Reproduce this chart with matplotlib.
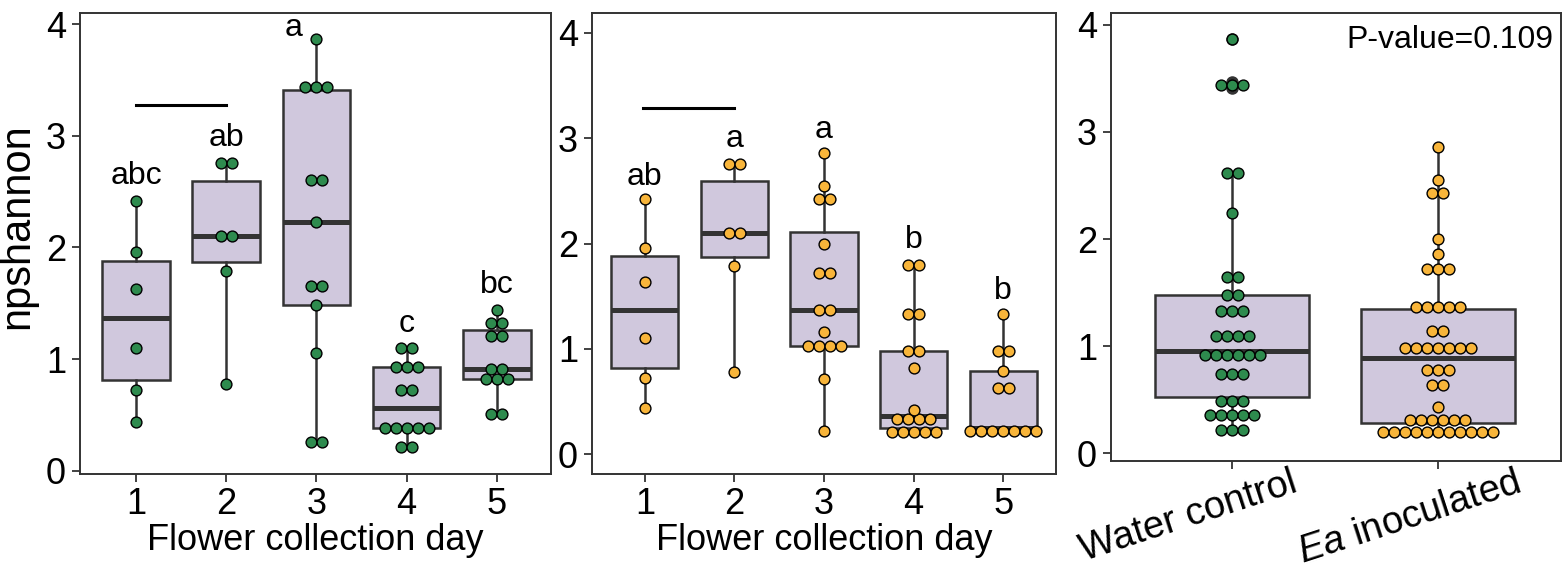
import matplotlib
matplotlib.use("Agg")
import matplotlib.pyplot as plt
from matplotlib.transforms import blended_transform_factory

plt.rcParams["font.family"] = ["Liberation Sans", "DejaVu Sans"]
plt.rcParams["mathtext.fontset"] = "custom"
plt.rcParams["mathtext.rm"] = "Liberation Sans"
plt.rcParams["mathtext.it"] = "Liberation Sans:italic"

# ---- data ----
days = [1, 2, 3, 4, 5]

water_by_day = [
    [0.44, 0.72, 1.10, 1.63, 1.96, 2.42],
    [0.78, 1.79, 2.10, 2.10, 2.76, 2.76],
    [0.26, 0.26, 1.05, 1.48, 1.65, 1.65, 2.23, 2.60, 2.60, 3.41, 3.45, 3.47, 3.87],
    [0.21, 0.21, 0.37, 0.38, 0.39, 0.39, 0.40, 0.72, 0.72, 0.92, 0.93, 0.93, 1.10, 1.10],
    [0.51, 0.51, 0.82, 0.82, 0.82, 0.91, 0.91, 1.18, 1.24, 1.32, 1.32, 1.44],
]
ea_by_day = [
    [0.44, 0.72, 1.10, 1.63, 1.96, 2.42],
    [0.78, 1.79, 2.10, 2.10, 2.76, 2.76],
    [0.22, 0.71, 1.02, 1.02, 1.03, 1.04, 1.16, 1.37, 1.37, 1.72, 1.72, 2.00, 2.42, 2.42, 2.55, 2.86],
    [0.17, 0.19, 0.21, 0.23, 0.25, 0.30, 0.32, 0.34, 0.36, 0.42, 0.82, 0.98, 0.98, 1.33, 1.33, 1.80, 1.80],
    [0.18, 0.19, 0.20, 0.24, 0.25, 0.25, 0.25, 0.63, 0.63, 0.79, 0.98, 0.98, 1.33],
]

water_all = ([0.21, 0.22, 0.23] + [0.34, 0.35, 0.36, 0.37, 0.38] + [0.45, 0.53, 0.53]
             + [0.73, 0.74, 0.75] + [0.88, 0.89, 0.90, 0.92, 0.95, 0.96] + [1.10] * 4
             + [1.33] * 3 + [1.48] * 2 + [1.65] * 2 + [2.24] + [2.62] * 2
             + [3.41, 3.45, 3.47] + [3.87])
ea_all = ([0.17, 0.18, 0.19, 0.19, 0.20, 0.20, 0.20, 0.21, 0.21, 0.22, 0.23]
          + [0.28, 0.30, 0.31, 0.31, 0.32, 0.34] + [0.43] + [0.64] * 2
          + [0.76, 0.77, 0.80] + [0.98] * 7 + [1.14] * 2 + [1.34, 1.34, 1.35, 1.38, 1.40]
          + [1.72] * 3 + [1.86] + [2.00] + [2.43] * 2 + [2.55] + [2.86])

treatments = ["Water control", r"$\mathit{Ea}$ inoculated"]

water_letters = ["abc", "ab", "a", "c", "bc"]
water_letter_x = [1, 2, 2.75, 4, 5]
water_letter_y = [2.57, 2.91, 3.89, 1.24, 1.59]
ea_letters = ["ab", "a", "a", "b", "b"]
ea_letter_x = [1, 2, 3, 4, 5]
ea_letter_y = [2.56, 2.92, 3.00, 1.96, 1.47]

water_bar_x = [1.0, 2.0]
water_bar_y = 3.28
ea_bar_x = [0.98, 1.99]
ea_bar_y = 3.29

p_value_text = "P-value=0.109"

# ---- style ----
GREEN = "#2E8B4E"
ORANGE = "#F8B53A"
BOX_FILL = "#D0C8DD"
DARK = "#333333"
W, H = 1562, 578
DOT_SPACING_PX = 11
BINWIDTH = 0.08


def px_axes(fig, left, right, top, bottom):
    return fig.add_axes([left / W, 1 - bottom / H, (right - left) / W, (bottom - top) / H])


def dot_rows(values, binwidth):
    # dotplot-style binning: stack values that fall within one binwidth
    vals = sorted(values)
    rows = []
    i = 0
    while i < len(vals):
        start = vals[i]
        j = i
        while j < len(vals) and vals[j] <= start + binwidth + 1e-9:
            j += 1
        chunk = vals[i:j]
        rows.append(((chunk[0] + chunk[-1]) / 2, len(chunk)))
        i = j
    return rows


def draw_dots(ax, groups, positions, colors, dx):
    for pos, vals, col in zip(positions, groups, colors):
        xs, ys = [], []
        for center, n in dot_rows(vals, BINWIDTH):
            for k in range(n):
                xs.append(pos + (k - (n - 1) / 2) * dx)
                ys.append(center)
        ax.plot(xs, ys, linestyle="none", marker="o", markersize=7.8,
                markerfacecolor=col, markeredgecolor="black", markeredgewidth=1.0, zorder=4)


def draw_panel(ax, groups, positions, colors, xlim, ylim, width_px):
    ax.set_xlim(*xlim)
    ax.set_ylim(*ylim)
    ax.boxplot(
        groups, positions=positions, widths=0.75, patch_artist=True,
        showcaps=False, manage_ticks=False, zorder=2,
        boxprops=dict(facecolor=BOX_FILL, edgecolor=DARK, linewidth=1.8),
        whiskerprops=dict(color=DARK, linewidth=1.8),
        medianprops=dict(color=DARK, linewidth=3.6),
        flierprops=dict(marker="o", markerfacecolor=DARK, markeredgecolor=DARK, markersize=8),
    )
    dx = DOT_SPACING_PX / (width_px / (xlim[1] - xlim[0]))
    draw_dots(ax, groups, positions, colors, dx)

    ax.set_yticks([0, 1, 2, 3, 4])
    for side in ["left", "right", "top", "bottom"]:
        ax.spines[side].set_color(DARK)
        ax.spines[side].set_linewidth(1.4)
    ax.tick_params(axis="both", direction="out", length=6, width=1.3, color=DARK,
                   labelsize=26, labelcolor="black")
    ax.tick_params(axis="y", pad=4)
    ax.tick_params(axis="x", pad=3)


fig = plt.figure(figsize=(W / 100, H / 100), dpi=100)

ax1 = px_axes(fig, 80, 551, 13, 474)
ax2 = px_axes(fig, 592, 1056, 13, 474)
ax3 = px_axes(fig, 1111, 1561, 13, 461)

draw_panel(ax1, water_by_day, days, [GREEN] * 5, (0.38, 5.6), (-0.03, 4.10), 551 - 80)
draw_panel(ax2, ea_by_day, days, [ORANGE] * 5, (0.41, 5.59), (-0.19, 4.19), 1056 - 592)
draw_panel(ax3, [water_all, ea_all], [1, 2], [GREEN, ORANGE], (0.41, 2.6), (-0.07, 4.11), 1561 - 1111)

for ax in (ax1, ax2):
    ax.set_xticks(days)
    ax.set_xlabel("Flower collection day", fontsize=26, labelpad=1)

ax1.set_ylabel("npshannon", fontsize=30)
ax1.yaxis.set_label_coords(-0.091, 0.538)

for txt, x, y in zip(water_letters, water_letter_x, water_letter_y):
    ax1.text(x, y, txt, ha="center", va="baseline", fontsize=23)
for txt, x, y in zip(ea_letters, ea_letter_x, ea_letter_y):
    ax2.text(x, y, txt, ha="center", va="baseline", fontsize=23)

ax1.plot(water_bar_x, [water_bar_y] * 2, color="black", linewidth=2.2)
ax2.plot(ea_bar_x, [ea_bar_y] * 2, color="black", linewidth=2.2)

ax3.set_xticks([1, 2])
ax3.set_xticklabels([])
trans = blended_transform_factory(ax3.transData, ax3.transAxes)
for pos, lab, shift in zip([1, 2], treatments, [0.283, 0.37]):
    ax3.text(pos + shift, -0.008, lab, transform=trans, ha="right", va="top",
             rotation=18, rotation_mode="anchor", fontsize=27.5)

ax3.text(0.982, 0.922, p_value_text, transform=ax3.transAxes,
         ha="right", va="baseline", fontsize=23)

fig.savefig("out.png", dpi=100)
